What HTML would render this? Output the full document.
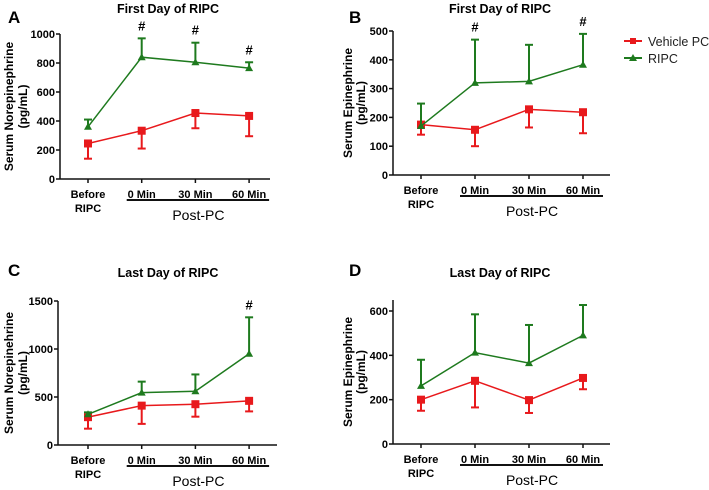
<!DOCTYPE html>
<html><head><meta charset="utf-8"><style>
body{margin:0;background:#fff}
svg{display:block;font-family:"Liberation Sans",Arial,sans-serif}
</style></head><body>
<svg id="chart" width="709" height="490" viewBox="0 0 709 490" xmlns="http://www.w3.org/2000/svg">
<g>
<g><line x1="624" y1="41" x2="642" y2="41" stroke="#e8191c" stroke-width="2"/><rect x="630" y="38" width="6" height="6" fill="#e8191c"/><text x="648" y="46" font-size="12.5" fill="#222">Vehicle PC</text></g>
<g><line x1="624" y1="58" x2="642" y2="58" stroke="#1e7a1e" stroke-width="2"/><polygon points="633,54 637,61 629,61" fill="#1e7a1e"/><text x="648" y="63" font-size="12.5" fill="#222">RIPC</text></g>
</g>
</svg>
<script>
const categories=[["Before","RIPC"],["0 Min"],["30 Min"],["60 Min"]];
const aVehicle=[245,333,455,435];
const aVehicleErr=[105,123,105,140];
const aRipc=[360,840,805,765];
const aRipcErr=[50,130,135,40];
const bVehicle=[175,157,228,218];
const bVehicleErr=[35,57,63,73];
const bRipc=[170,320,325,383];
const bRipcErr=[78,150,127,107];
const cVehicle=[290,410,425,460];
const cVehicleErr=[120,190,130,110];
const cRipc=[320,545,560,950];
const cRipcErr=[20,115,175,380];
const dVehicle=[200,285,198,298];
const dVehicleErr=[50,120,58,51];
const dRipc=[262,412,365,490];
const dRipcErr=[118,173,172,137];
const aTicks=[0,200,400,600,800,1000];
const bTicks=[0,100,200,300,400,500];
const cTicks=[0,500,1000,1500];
const dTicks=[0,200,400,600];
const aHash=[1,2,3], bHash=[1,3], cHash=[3], dHash=[];

const svg=document.getElementById('chart');
const NS='http://www.w3.org/2000/svg';
function mk(tag,attrs,parent,text){const e=document.createElementNS(NS,tag);for(const k in attrs)e.setAttribute(k,attrs[k]);if(text!==undefined)e.textContent=text;parent.appendChild(e);return e;}

const panels=[
 {id:'a',letter:'A',title:'First Day of RIPC',ylab:['Serum Norepinephrine','(pg/mL)'],ax:60,x0:88,dx:53.7,y0:179,yTop:34,max:1000,axEnd:270,ticks:aTicks,veh:aVehicle,vehE:aVehicleErr,rip:aRipc,ripE:aRipcErr,hash:aHash,lx:8,ly:23,tx:168,ty:13,yl:[13,27]},
 {id:'b',letter:'B',title:'First Day of RIPC',ylab:['Serum Epinephrine','(pg/mL)'],ax:393,x0:421,dx:54,y0:175,yTop:31,max:500,axEnd:610,ticks:bTicks,veh:bVehicle,vehE:bVehicleErr,rip:bRipc,ripE:bRipcErr,hash:bHash,lx:349,ly:23,tx:500,ty:13,yl:[352,365]},
 {id:'c',letter:'C',title:'Last Day of RIPC',ylab:['Serum Norepinehrine','(pg/mL)'],ax:58,x0:88,dx:53.7,y0:445,yTop:301,max:1500,axEnd:277,ticks:cTicks,veh:cVehicle,vehE:cVehicleErr,rip:cRipc,ripE:cRipcErr,hash:cHash,lx:8,ly:276,tx:168,ty:277,yl:[13,27]},
 {id:'d',letter:'D',title:'Last Day of RIPC',ylab:['Serum Epinephrine','(pg/mL)'],ax:393,x0:421,dx:54,y0:444,yTop:311,max:600,axEnd:610,ticks:dTicks,veh:dVehicle,vehE:dVehicleErr,rip:dRipc,ripE:dRipcErr,hash:dHash,lx:349,ly:276,tx:500,ty:277,yl:[352,365]}
];
panels.forEach(p=>{
 const g=mk('g',{},svg);
 
 
 const X=i=>p.x0+i*p.dx;
 const Y=v=>p.y0-(v/p.max)*(p.y0-p.yTop);
 const top=p.id==='d'?300:p.yTop;
 const lt=mk('text',{x:p.lx,y:p.ly,'font-size':17,'font-weight':'bold'},g,p.letter);
 
 
 const tt=mk('text',{x:p.tx,y:p.ty,'font-size':12.5,'font-weight':'bold','text-anchor':'middle'},g,p.title);
 
 
 const cy=(p.y0+top)/2;
 p.ylab.forEach((s,k)=>{const t=mk('text',{x:0,y:0,'font-size':12,'font-weight':'bold','text-anchor':'middle',transform:`translate(${p.yl[k]},${cy}) rotate(-90)`},g,s);
  
  });
 const ya=mk('line',{x1:p.ax,y1:top,x2:p.ax,y2:p.y0,stroke:'#111','stroke-width':1.5},g);
 
 
 const xa=mk('line',{x1:p.ax,y1:p.y0,x2:p.axEnd,y2:p.y0,stroke:'#111','stroke-width':1.5},g);
 
 
 p.ticks.forEach(v=>{mk('line',{x1:p.ax-4,y1:Y(v),x2:p.ax,y2:Y(v),stroke:'#111','stroke-width':1.5},g);
  const t=mk('text',{x:p.ax-5,y:Y(v)+4,'font-size':11,'font-weight':'bold','text-anchor':'end'},g,v);
  
  });
 categories.forEach((c,i)=>{mk('line',{x1:X(i),y1:p.y0,x2:X(i),y2:p.y0+4,stroke:'#111','stroke-width':1.5},g);
  c.forEach((s,k)=>{const t=mk('text',{x:X(i),y:p.y0+19+k*14,'font-size':11,'font-weight':'bold','text-anchor':'middle'},g,s);
   
   });});
 const br=mk('line',{x1:X(1)-15,y1:p.y0+21,x2:X(3)+20,y2:p.y0+21,stroke:'#111','stroke-width':2},g);
 
 
 const pp=mk('text',{x:(X(1)+X(3))/2+3,y:p.y0+41,'font-size':14,'text-anchor':'middle'},g,'Post-PC');
 
 
 function series(vals,errs,col,dir,shape,name){
  const sg=mk('g',{},g);
  
  
  vals.forEach((v,i)=>{const e=Y(v+dir*errs[i]);
   mk('line',{x1:X(i),y1:Y(v),x2:X(i),y2:e,stroke:col,'stroke-width':2},sg);
   mk('line',{x1:X(i)-4,y1:e,x2:X(i)+4,y2:e,stroke:col,'stroke-width':2},sg);});
  mk('polyline',{points:vals.map((v,i)=>X(i)+','+Y(v)).join(' '),fill:'none',stroke:col,'stroke-width':1.5},sg);
  vals.forEach((v,i)=>{let m;
   if(shape==='sq')m=mk('rect',{x:X(i)-4,y:Y(v)-4,width:8,height:8,fill:col},sg);
   else m=mk('polygon',{points:`${X(i)},${Y(v)-4} ${X(i)+4},${Y(v)+3} ${X(i)-4},${Y(v)+3}`,fill:col},sg);
   
   });
 }
 series(p.veh,p.vehE,'#e8191c',-1,'sq','vehicle');
 series(p.rip,p.ripE,'#1e7a1e',1,'tri','ripc');
 p.hash.forEach(i=>{const top2=Y(p.rip[i]+p.ripE[i]);
  const t=mk('text',{x:X(i),y:top2-8,'font-size':13,'font-weight':'bold','text-anchor':'middle'},g,'#');
  
  });
});
</script>
</body></html>
